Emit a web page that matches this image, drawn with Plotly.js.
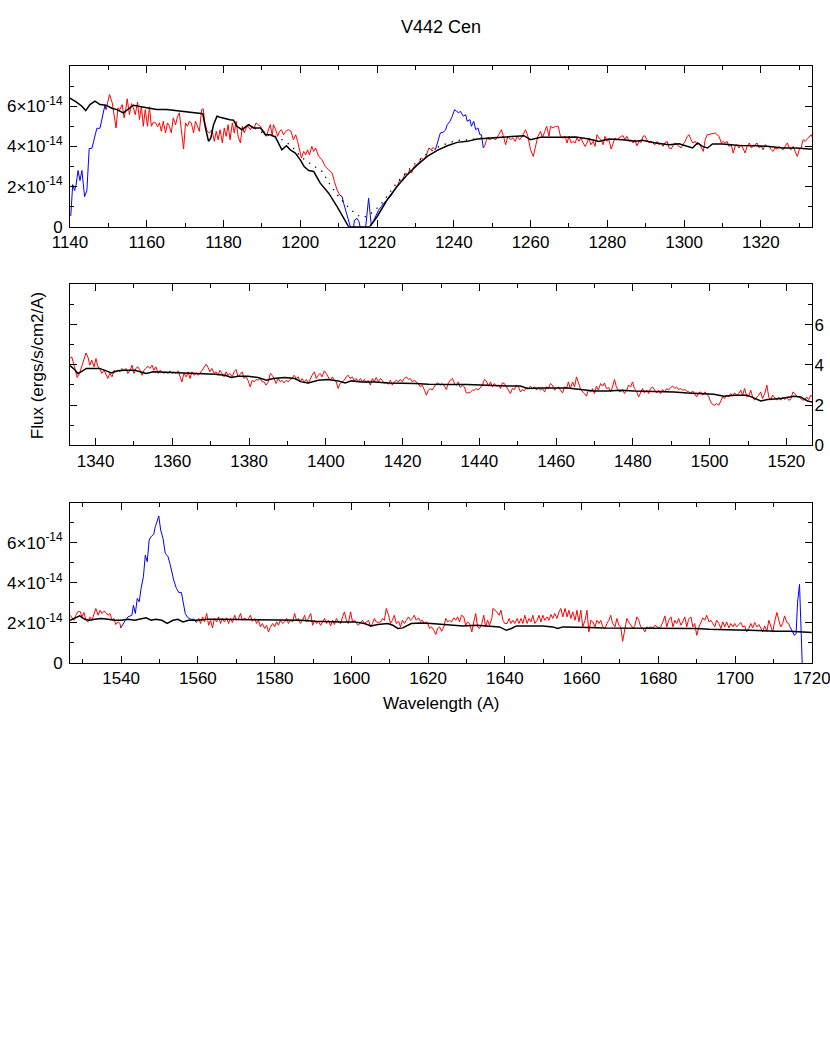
<!DOCTYPE html>
<html>
<head>
<meta charset="utf-8">
<script src="https://cdn.plot.ly/plotly-3.0.1.min.js"></script>
<style>html,body{margin:0;padding:0;background:#fff;}#chart{width:830px;height:1042px;}</style>
</head>
<body>
<div id="chart"></div>
<script>
// Flux values in units of 1e-14 ergs/s/cm2/A; pairs are [wavelength (A), flux]
const titleText = "V442 Cen";
const yTickVals = [0, 2, 4, 6];
const yTickTextExp = ["0", "2×10<sup>-14</sup>", "4×10<sup>-14</sup>", "6×10<sup>-14</sup>"];
const yTickTextShort = ["0", "2", "4", "6"];
const panelRanges = [[1140, 1333.33], [1333.33, 1526.67], [1526.67, 1720.05]];

// ---------- Panel 1 ----------
const p1BlueA = [[1140.2,0.53],[1140.7,2.1],[1141.2,1.8],[1141.6,2.1],[1142.1,2.8],[1142.6,2.3],[1143.1,2.8],[1143.8,1.5],[1144.4,1.8],[1145.0,3.9],[1145.7,3.9],[1146.3,4.3],[1147.0,4.9],[1147.8,4.9],[1148.5,5.5],[1149.1,6.05],[1149.4,5.83]];
const p1RedA = [[1149.4,5.83],[1149.7,6.08],[1150.3,6.58],[1151.0,6.17],[1151.5,5.58],[1152.0,4.92],[1152.5,5.92],[1153.0,5.83],[1153.6,6.08],[1154.1,5.42],[1154.6,5.92],[1154.9,6.37],[1155.5,5.58],[1156.0,6.13],[1156.5,5.92],[1157.0,5.58],[1157.6,6.2],[1158.1,5.33],[1158.6,6.0],[1159.1,5.0],[1159.6,5.83],[1160.2,5.0],[1160.7,5.97],[1161.2,5.0],[1161.7,5.2],[1162.3,5.17],[1162.8,4.97],[1163.3,5.17],[1163.8,4.75],[1164.3,5.25],[1164.9,4.67],[1165.4,5.17],[1165.9,5.0],[1166.4,4.67],[1166.9,5.42],[1167.5,5.08],[1168.0,5.47],[1168.5,5.67],[1169.0,4.83],[1169.6,3.87],[1170.1,5.17],[1170.6,5.0],[1171.1,5.25],[1171.6,5.17],[1172.2,4.67],[1172.7,5.25],[1173.2,5.0],[1173.7,4.75],[1174.3,5.83],[1174.7,5.87],[1175.1,5.25],[1175.7,4.75],[1176.4,4.67],[1177.0,4.83],[1177.6,4.25],[1178.1,4.75],[1178.6,4.33],[1179.1,4.83],[1179.7,4.17],[1180.2,4.92],[1180.7,4.5],[1181.2,5.08],[1181.7,4.33],[1182.3,5.17],[1182.8,4.67],[1183.3,5.25],[1183.8,4.5],[1184.4,4.17],[1184.9,5.0],[1185.4,4.67],[1185.9,4.92],[1186.4,5.0],[1187.0,4.83],[1187.5,5.0],[1188.0,4.92],[1188.5,5.17],[1189.0,5.08],[1189.6,5.0],[1190.1,4.83],[1190.6,4.75],[1191.1,4.5],[1191.7,4.83],[1192.2,5.08],[1192.7,4.5],[1193.0,5.08],[1193.6,4.83],[1194.1,4.5],[1194.6,4.75],[1195.1,4.83],[1195.6,4.58],[1196.2,4.75],[1196.9,4.83],[1197.6,4.75],[1198.2,4.33],[1198.8,4.58],[1199.3,4.25],[1199.8,3.75],[1200.3,3.42],[1200.9,3.75],[1201.4,3.58],[1201.9,3.83],[1202.4,3.58],[1203.0,4.0],[1203.5,3.75],[1204.0,3.92],[1204.5,3.67],[1204.8,3.5],[1205.7,3.33],[1206.5,3.0],[1207.4,2.83],[1208.3,2.67],[1208.9,2.25],[1209.6,1.83],[1210.3,1.58]];
const p1BlueB = [[1210.3,1.58],[1210.9,1.5],[1211.3,1.17],[1212.0,0.75],[1212.6,0.33],[1213.0,0.03],[1213.5,-0.3],[1213.9,0.0],[1214.1,0.33],[1214.8,0.42],[1215.3,0.25],[1215.7,-0.1],[1216.3,-0.4],[1217.0,-0.1],[1217.4,0.67],[1217.8,1.42],[1218.1,0.83],[1218.5,0.08],[1219.1,0.3],[1219.8,0.58],[1220.4,0.83],[1221.1,1.0],[1221.7,1.17],[1222.6,1.33],[1223.5,1.5],[1224.3,1.75],[1225.0,1.97]];
const p1RedB = [[1225.0,1.97],[1225.4,2.08],[1225.9,2.33],[1226.4,2.25],[1227.0,2.5],[1227.5,2.67],[1228.0,2.58],[1228.5,2.83],[1229.0,2.67],[1229.6,3.0],[1230.3,3.08],[1230.9,3.17],[1231.5,3.42],[1232.2,3.33],[1232.9,3.58],[1233.5,3.92],[1234.1,3.83],[1234.6,3.95],[1235.2,3.83]];
const p1BlueC = [[1235.2,3.83],[1235.8,4.17],[1236.5,4.67],[1237.2,4.7],[1237.8,4.8],[1238.3,5.08],[1239.0,5.25],[1239.6,5.5],[1240.2,5.83],[1240.7,5.75],[1241.3,5.67],[1241.7,5.75],[1242.5,5.5],[1243.1,5.58],[1243.5,5.25],[1244.2,5.33],[1244.6,5.0],[1245.2,5.25],[1245.7,4.83],[1246.3,4.92],[1246.8,4.58],[1247.2,4.58],[1247.7,3.92]];
const p1RedC = [[1247.7,3.92],[1248.0,4.0],[1248.7,4.42],[1249.4,4.33],[1250.0,4.42],[1250.9,4.33],[1251.7,4.58],[1252.4,4.83],[1252.9,4.53],[1253.5,4.08],[1254.1,4.5],[1254.8,4.33],[1255.4,4.42],[1256.0,4.25],[1256.5,4.5],[1257.2,4.33],[1257.9,4.53],[1258.7,4.83],[1259.3,4.5],[1260.0,3.83],[1260.7,3.5],[1261.3,4.0],[1261.9,4.5],[1262.6,4.75],[1263.1,4.42],[1263.7,4.75],[1264.2,5.0],[1264.8,4.5],[1265.2,5.0],[1265.9,4.92],[1266.5,5.0],[1267.2,5.0],[1267.8,4.5],[1268.3,4.42],[1269.0,4.5],[1269.5,4.17],[1270.0,4.5],[1270.6,4.17],[1271.1,4.25],[1271.6,4.17],[1272.1,4.42],[1272.6,4.25],[1273.1,4.42],[1273.7,4.17],[1274.2,4.0],[1274.7,4.17],[1275.2,4.42],[1275.7,4.08],[1276.3,4.25],[1276.8,4.0],[1277.3,4.58],[1277.8,4.42],[1278.4,4.33],[1278.9,4.08],[1279.4,4.5],[1279.9,4.25],[1280.4,4.33],[1281.0,3.87],[1281.5,4.17],[1282.0,4.42],[1282.5,4.33],[1283.0,4.42],[1283.6,4.5],[1284.1,4.53],[1284.6,4.33],[1285.1,4.5],[1285.7,4.25],[1286.2,4.33],[1286.7,4.17],[1287.2,4.33],[1287.7,4.03],[1288.3,4.25],[1288.8,4.2],[1289.3,4.5],[1289.8,4.53],[1290.3,4.33],[1290.9,4.17],[1291.4,4.25],[1291.9,4.17],[1292.4,4.08],[1293.0,4.25],[1293.5,4.08],[1294.0,4.17],[1294.5,4.0],[1295.0,4.17],[1295.6,4.25],[1296.1,3.92],[1296.6,3.87],[1297.1,4.03],[1297.6,4.17],[1298.2,4.08],[1298.7,4.0],[1299.2,3.92],[1299.7,4.08],[1300.3,4.25],[1300.8,4.5],[1301.3,4.58],[1301.8,4.33],[1302.3,4.17],[1302.9,4.25],[1303.4,4.08],[1303.9,4.17],[1304.4,4.0],[1305.0,3.75],[1305.5,4.33],[1306.0,4.58],[1306.5,4.58],[1307.0,4.63],[1307.6,4.63],[1308.1,4.67],[1308.6,4.58],[1309.1,4.5],[1309.7,4.17],[1310.2,4.25],[1310.7,4.17],[1311.2,4.25],[1311.7,4.0],[1312.3,4.08],[1312.8,3.67],[1313.3,4.0],[1313.8,4.08],[1314.3,3.92],[1314.9,4.08],[1315.4,3.83],[1315.9,3.67],[1316.4,4.0],[1317.0,4.17],[1317.5,3.92],[1318.0,4.0],[1318.5,4.08],[1319.0,4.17],[1319.6,3.92],[1320.1,4.03],[1320.6,3.83],[1321.1,4.08],[1321.7,4.0],[1322.2,4.0],[1322.7,3.83],[1323.2,3.75],[1323.7,3.92],[1324.3,3.87],[1324.8,4.0],[1325.3,3.92],[1325.8,3.83],[1326.3,4.0],[1326.9,4.17],[1327.4,3.92],[1327.9,3.83],[1328.4,4.0],[1329.0,3.67],[1329.5,3.5],[1330.0,3.83],[1330.5,3.92],[1331.0,4.33],[1331.6,4.25],[1332.1,4.37],[1332.6,4.5],[1333.1,4.58],[1333.7,4.33]];
const p1Model = [[1140.0,6.4],[1140.3,6.37],[1141.7,6.2],[1143.1,6.0],[1144.1,5.78],[1145.2,6.08],[1146.5,6.25],[1147.8,6.08],[1149.4,6.05],[1150.9,5.9],[1152.2,5.83],[1153.9,5.67],[1155.2,5.87],[1156.5,6.05],[1160.0,5.92],[1162.6,5.83],[1165.2,5.83],[1168.7,5.75],[1172.2,5.7],[1174.6,5.63],[1175.2,5.0],[1176.1,4.25],[1176.7,4.42],[1177.4,5.08],[1178.3,5.5],[1179.6,5.42],[1181.7,5.33],[1182.6,5.3],[1183.5,5.0],[1184.8,4.83],[1186.5,5.08],[1187.8,4.92],[1189.6,4.92],[1190.9,4.58],[1192.2,4.58],[1193.5,4.47],[1195.2,3.83],[1196.4,4.03],[1197.4,3.83],[1198.7,3.67],[1200.0,3.33],[1201.0,3.0],[1202.2,2.8],[1203.5,2.75],[1205.2,2.17],[1207.4,1.67],[1209.6,1.0],[1211.3,0.42],[1212.6,0],[1218.1,0],[1220.0,0.5],[1222.6,1.33],[1225.2,2.0],[1227.8,2.58],[1230.5,3.08],[1233.1,3.5],[1235.7,3.8],[1238.3,4.03],[1240.9,4.2],[1243.5,4.25],[1246.1,4.37],[1249.6,4.42],[1253.0,4.47],[1256.5,4.53],[1258.3,4.53],[1260.0,4.33],[1262.6,4.45],[1267.0,4.45],[1271.8,4.47],[1275.2,4.37],[1277.8,4.25],[1280.4,4.37],[1283.9,4.33],[1287.4,4.25],[1289.1,4.3],[1292.6,4.17],[1296.1,4.08],[1298.7,4.13],[1300.4,4.03],[1302.2,3.92],[1303.5,4.17],[1304.8,4.0],[1306.1,3.92],[1307.4,4.12],[1310.0,4.12],[1314.4,4.05],[1318.7,4.03],[1322.2,4.0],[1325.7,3.92],[1329.2,3.92],[1332.6,3.87],[1333.7,3.87]];
const p1ModelDotted = [[1186.5,5.08],[1190.9,4.6],[1193.5,4.5],[1196.1,4.25],[1198.0,3.97],[1200.0,3.5],[1203.5,3.03],[1205.7,2.75],[1207.8,2.08],[1210.0,1.5],[1212.2,1.03],[1214.8,0.58],[1216.5,0.45],[1218.7,0.7],[1220.9,1.08],[1223.0,1.6],[1225.2,2.2],[1227.8,2.75],[1230.5,3.25],[1233.1,3.65],[1235.7,3.95],[1238.3,4.15],[1240.9,4.3],[1243.5,4.32],[1246.1,4.4],[1249.6,4.42],[1253.0,4.47]];

// ---------- Panel 2 ----------
const p2Red = [[1333.2,4.31],[1333.8,4.39],[1334.5,3.9],[1335.2,3.37],[1335.8,3.57],[1336.4,3.9],[1337.0,4.31],[1337.5,4.59],[1338.0,4.39],[1338.5,3.98],[1339.0,4.23],[1339.6,3.9],[1340.1,4.31],[1340.6,3.9],[1341.1,3.82],[1341.6,3.57],[1342.2,3.73],[1342.7,3.48],[1343.2,3.32],[1343.7,3.57],[1344.3,3.4],[1344.8,3.73],[1345.3,3.65],[1345.8,3.73],[1346.3,3.65],[1346.9,3.82],[1347.4,3.7],[1347.9,3.82],[1348.4,3.57],[1349.0,3.73],[1349.5,3.98],[1350.0,3.57],[1350.5,3.82],[1351.0,3.9],[1351.6,3.73],[1352.1,3.48],[1352.6,3.73],[1353.1,3.82],[1353.6,3.93],[1354.2,3.82],[1354.7,3.98],[1355.2,3.73],[1355.7,3.9],[1356.3,3.57],[1356.8,3.73],[1357.3,3.65],[1357.8,3.57],[1358.3,3.65],[1358.9,3.57],[1359.4,3.7],[1359.9,3.57],[1360.4,3.65],[1361.0,3.57],[1361.5,3.7],[1362.0,3.4],[1362.5,3.15],[1363.0,3.57],[1363.6,3.4],[1364.1,3.65],[1364.6,3.32],[1365.1,3.65],[1365.7,3.48],[1366.2,3.57],[1366.7,3.48],[1367.2,3.57],[1367.7,3.73],[1368.3,3.9],[1368.8,4.03],[1369.3,3.87],[1369.8,3.65],[1370.3,3.82],[1370.9,3.57],[1371.4,3.65],[1371.9,3.48],[1372.4,3.73],[1373.0,3.57],[1373.5,3.4],[1374.0,3.65],[1374.5,3.48],[1375.0,3.57],[1375.6,3.4],[1376.1,3.65],[1376.6,3.77],[1377.1,3.4],[1377.7,3.57],[1378.2,3.65],[1378.7,3.32],[1379.2,3.43],[1379.7,3.23],[1380.3,2.9],[1380.8,3.23],[1381.3,3.15],[1381.8,3.27],[1382.3,3.23],[1382.9,3.32],[1383.4,3.15],[1383.9,3.15],[1384.4,2.99],[1385.0,3.15],[1385.5,3.57],[1386.0,3.48],[1386.5,3.32],[1387.0,3.07],[1387.6,3.32],[1388.1,3.15],[1388.6,3.23],[1389.1,3.1],[1389.7,3.23],[1390.2,3.15],[1390.7,3.27],[1391.2,3.32],[1391.7,3.48],[1392.3,3.32],[1392.8,3.4],[1393.3,3.15],[1393.8,3.32],[1394.3,3.15],[1394.9,3.27],[1395.4,3.07],[1395.9,3.32],[1396.4,3.48],[1397.0,3.65],[1397.5,3.32],[1398.0,3.48],[1398.5,3.57],[1399.0,3.4],[1399.6,3.7],[1400.1,3.57],[1400.6,3.4],[1401.1,3.23],[1401.7,3.4],[1402.2,3.23],[1402.7,3.15],[1403.2,2.82],[1403.7,3.07],[1404.3,3.15],[1404.8,3.23],[1405.3,3.4],[1405.8,3.48],[1406.3,3.32],[1406.9,3.4],[1407.4,3.23],[1407.9,3.32],[1408.4,3.15],[1409.0,3.32],[1409.5,3.15],[1410.0,3.27],[1410.5,3.1],[1411.0,3.23],[1411.6,2.99],[1412.1,3.32],[1412.6,3.15],[1413.1,3.37],[1413.7,3.15],[1414.2,3.32],[1414.7,3.23],[1415.2,3.07],[1415.7,3.15],[1416.3,3.03],[1416.8,3.23],[1417.3,2.99],[1417.8,3.15],[1418.4,3.23],[1418.9,3.15],[1419.4,3.27],[1419.9,3.15],[1420.4,3.32],[1421.0,3.4],[1421.5,3.27],[1422.0,3.32],[1422.5,3.15],[1423.0,3.23],[1423.6,3.15],[1424.1,3.07],[1424.6,2.9],[1425.1,2.99],[1425.7,2.74],[1426.2,2.49],[1426.7,2.74],[1427.2,2.82],[1427.7,2.74],[1428.3,2.9],[1428.8,3.07],[1429.3,3.1],[1429.8,2.99],[1430.3,3.07],[1430.9,2.94],[1431.4,2.77],[1431.9,3.07],[1432.4,3.23],[1433.0,3.32],[1433.5,3.07],[1434.0,2.99],[1434.5,3.15],[1435.0,2.87],[1435.6,2.99],[1436.1,2.9],[1436.6,2.6],[1437.1,2.6],[1437.7,2.65],[1438.2,2.74],[1438.7,2.74],[1439.2,2.82],[1439.7,2.74],[1440.3,2.9],[1440.8,2.99],[1441.3,3.27],[1441.8,3.2],[1442.4,2.94],[1442.9,3.15],[1443.4,2.9],[1443.9,3.07],[1444.4,2.94],[1445.0,2.99],[1445.5,2.82],[1446.0,3.1],[1446.5,3.07],[1447.0,2.9],[1447.6,2.74],[1448.1,2.57],[1448.6,2.82],[1449.1,2.77],[1449.7,2.99],[1450.2,2.9],[1450.7,2.65],[1451.2,2.77],[1451.7,2.7],[1452.3,2.87],[1452.8,2.82],[1453.3,2.94],[1453.8,2.82],[1454.4,2.9],[1454.9,2.74],[1455.4,2.87],[1455.9,2.74],[1456.4,2.82],[1457.0,2.65],[1457.5,2.9],[1458.0,2.82],[1458.5,3.07],[1459.0,2.99],[1459.6,2.74],[1460.1,2.82],[1460.6,2.9],[1461.1,2.74],[1461.7,2.6],[1462.2,2.9],[1462.7,2.82],[1463.2,3.15],[1463.7,2.82],[1464.3,3.15],[1464.8,2.9],[1465.3,3.4],[1465.8,3.15],[1466.4,2.77],[1466.9,2.65],[1467.4,2.57],[1467.9,2.44],[1468.4,2.74],[1469.0,2.65],[1469.5,2.82],[1470.0,2.57],[1470.5,2.94],[1471.0,2.74],[1471.6,3.07],[1472.1,2.94],[1472.6,3.1],[1473.1,2.82],[1473.7,2.87],[1474.2,2.65],[1474.7,2.9],[1475.2,3.27],[1475.7,2.9],[1476.3,2.7],[1476.8,2.65],[1477.3,2.77],[1477.8,2.57],[1478.4,2.74],[1478.9,2.99],[1479.4,2.9],[1479.9,3.15],[1480.4,2.82],[1481.0,2.65],[1481.5,2.4],[1482.0,2.65],[1482.5,2.82],[1483.0,2.6],[1483.6,2.74],[1484.1,2.57],[1484.6,2.82],[1485.1,2.9],[1485.7,2.7],[1486.2,2.6],[1486.7,2.74],[1487.2,2.57],[1487.7,2.77],[1488.3,2.65],[1488.8,2.82],[1489.3,2.74],[1489.8,2.87],[1490.4,2.94],[1490.9,2.82],[1491.4,2.9],[1491.9,2.77],[1492.4,2.82],[1493.0,2.74],[1493.5,2.77],[1494.0,2.7],[1494.5,2.65],[1495.1,2.6],[1495.6,2.7],[1496.1,2.57],[1496.6,2.4],[1497.1,2.6],[1497.7,2.65],[1498.2,2.49],[1498.7,2.65],[1499.2,2.57],[1499.7,2.44],[1500.3,2.15],[1500.8,2.02],[1501.3,1.99],[1501.8,2.07],[1502.4,1.99],[1502.9,2.24],[1503.4,2.4],[1503.9,2.32],[1504.4,2.49],[1505.0,2.4],[1505.5,2.57],[1506.0,2.44],[1506.5,2.6],[1507.1,2.49],[1507.6,2.57],[1508.1,2.74],[1508.6,2.49],[1509.1,2.82],[1509.7,2.4],[1510.2,2.44],[1510.7,2.74],[1511.2,2.4],[1511.7,2.24],[1512.3,2.4],[1512.8,2.49],[1513.3,2.65],[1513.8,2.32],[1514.4,2.6],[1514.9,2.99],[1515.4,2.4],[1515.9,2.24],[1516.4,2.49],[1517.0,2.32],[1517.5,2.24],[1518.0,2.4],[1518.5,2.24],[1519.1,2.37],[1519.6,2.27],[1520.1,2.4],[1520.6,2.24],[1521.1,2.27],[1521.7,2.65],[1522.2,2.57],[1522.7,2.44],[1523.2,2.4],[1523.7,2.32],[1524.3,2.24],[1524.8,2.27],[1525.3,2.4],[1525.8,2.27],[1526.4,2.49],[1526.9,2.37]];
const p2Model = [[1333.3,3.95],[1333.5,3.93],[1334.5,3.77],[1335.4,3.57],[1336.2,3.65],[1337.6,3.82],[1339.3,3.82],[1341.0,3.82],[1342.8,3.7],[1344.1,3.6],[1345.8,3.7],[1347.6,3.73],[1350.2,3.73],[1351.9,3.65],[1353.2,3.57],[1355.0,3.65],[1358.0,3.63],[1360.6,3.6],[1364.1,3.6],[1367.6,3.57],[1371.1,3.53],[1373.7,3.48],[1375.4,3.37],[1377.1,3.43],[1379.7,3.43],[1382.3,3.37],[1384.5,3.23],[1386.3,3.32],[1389.3,3.37],[1391.9,3.32],[1393.6,3.15],[1395.4,3.1],[1398.0,3.23],[1400.6,3.27],[1403.2,3.2],[1405.0,3.1],[1406.7,3.2],[1409.3,3.15],[1412.8,3.15],[1416.3,3.1],[1419.7,3.1],[1423.2,3.07],[1426.7,3.03],[1430.2,3.01],[1433.3,3.02],[1436.8,3.02],[1440.3,2.99],[1443.7,2.97],[1447.2,2.95],[1450.7,2.94],[1452.5,2.82],[1455.9,2.85],[1459.4,2.85],[1462.9,2.84],[1466.4,2.77],[1469.8,2.7],[1473.3,2.7],[1476.8,2.74],[1480.3,2.7],[1483.8,2.69],[1487.2,2.65],[1490.7,2.65],[1494.2,2.6],[1497.7,2.57],[1501.1,2.54],[1503.7,2.44],[1506.4,2.49],[1509.8,2.49],[1511.6,2.32],[1513.3,2.2],[1515.1,2.27],[1518.5,2.32],[1522.0,2.44],[1523.7,2.4],[1525.5,2.2],[1526.8,2.15]];

// ---------- Panel 3 ----------
const p3RedA = [[1526.7,2.38],[1527.2,2.22],[1527.7,2.13],[1528.2,2.38],[1528.7,2.55],[1529.3,2.58],[1529.8,2.3],[1530.3,2.52],[1530.8,2.13],[1531.4,2.05],[1531.9,2.3],[1532.4,2.13],[1532.9,2.38],[1533.4,2.72],[1534.0,2.38],[1534.5,2.63],[1535.0,2.47],[1535.5,2.58],[1536.0,2.52],[1536.6,2.38],[1537.1,2.47],[1537.6,2.13],[1538.1,2.22],[1538.6,1.92],[1539.2,2.05],[1539.7,1.97],[1539.9,1.75]];
const p3BlueA = [[1539.9,1.75],[1540.5,1.97],[1541.1,2.13],[1541.8,2.3],[1542.5,2.38],[1542.8,2.38],[1543.2,2.88],[1543.7,2.47],[1544.2,3.22],[1544.7,3.05],[1545.2,3.72],[1545.8,4.3],[1546.3,5.38],[1546.8,5.05],[1547.3,6.13],[1547.8,6.3],[1548.5,6.42],[1548.9,6.8],[1549.4,7.08],[1549.8,7.33],[1550.3,6.63],[1550.9,6.22],[1551.5,5.47],[1552.2,5.3],[1552.7,4.97],[1553.2,4.55],[1553.7,4.13],[1554.4,3.72],[1555.0,3.52],[1555.7,3.52],[1556.2,3.05],[1556.7,2.47],[1557.2,2.3],[1557.7,2.22],[1558.3,2.18],[1559.0,2.18],[1559.6,2.02]];
const p3RedB = [[1559.6,2.02],[1560.2,2.22],[1560.7,1.97],[1561.2,2.3],[1561.7,2.05],[1562.3,2.47],[1562.8,1.88],[1563.3,2.13],[1563.8,1.75],[1564.3,2.22],[1564.9,2.05],[1565.4,2.3],[1565.9,1.97],[1566.4,2.22],[1566.9,2.05],[1567.5,2.25],[1568.0,1.97],[1568.5,2.22],[1569.0,2.02],[1569.6,2.38],[1570.1,2.13],[1570.6,2.22],[1571.1,2.47],[1571.6,2.13],[1572.2,2.25],[1572.7,2.13],[1573.2,2.22],[1573.7,2.38],[1574.2,2.08],[1574.8,2.22],[1575.3,1.97],[1575.8,2.13],[1576.3,1.8],[1576.8,1.97],[1577.4,1.72],[1577.9,1.88],[1578.4,1.55],[1578.9,1.8],[1579.5,1.97],[1580.0,1.8],[1580.5,2.05],[1581.0,1.88],[1581.5,2.13],[1582.1,1.97],[1582.6,2.05],[1583.1,2.22],[1583.6,1.97],[1584.1,2.13],[1584.7,2.05],[1585.2,2.47],[1585.7,2.13],[1586.2,2.22],[1586.7,1.97],[1587.3,2.13],[1587.8,2.38],[1588.3,2.05],[1588.8,2.22],[1589.4,2.47],[1589.9,1.88],[1590.4,2.13],[1590.9,1.97],[1591.4,2.08],[1592.0,1.88],[1592.5,2.05],[1593.0,2.22],[1593.5,1.97],[1594.0,2.13],[1594.6,1.85],[1595.1,2.13],[1595.6,1.92],[1596.1,2.22],[1596.6,2.05],[1597.2,1.97],[1597.7,2.3],[1598.2,2.55],[1598.7,2.13],[1599.2,1.97],[1599.8,2.55],[1600.3,2.05],[1600.8,2.13],[1601.3,1.97],[1601.8,1.88],[1602.4,2.02],[1602.9,2.13],[1603.4,1.97],[1603.9,2.05],[1604.5,2.13],[1605.0,1.8],[1605.5,1.97],[1606.0,2.22],[1606.5,2.05],[1607.1,2.02],[1607.6,2.05],[1608.1,2.22],[1608.6,2.13],[1609.1,2.72],[1609.7,2.38],[1610.2,1.97],[1610.7,2.13],[1611.2,2.38],[1611.7,1.97],[1612.3,2.08],[1612.8,1.8],[1613.3,2.13],[1613.8,1.97],[1614.3,2.13],[1614.9,2.3],[1615.4,2.13],[1615.9,2.22],[1616.4,2.38],[1616.9,2.13],[1617.5,2.25],[1618.0,2.08],[1618.5,2.13],[1619.0,1.97],[1619.6,2.05],[1619.9,1.97],[1620.4,1.72],[1620.9,1.8],[1621.5,1.63],[1622.0,1.42],[1622.5,1.72],[1623.0,1.8],[1623.5,1.58],[1624.1,1.8],[1624.6,2.22],[1625.1,2.05],[1625.6,2.13],[1626.1,2.05],[1626.7,2.25],[1627.2,2.13],[1627.7,2.3],[1628.2,2.05],[1628.7,2.38],[1629.3,2.3],[1629.8,1.88],[1630.3,2.05],[1630.8,1.97],[1631.4,1.55],[1631.9,2.05],[1632.4,2.47],[1632.9,1.8],[1633.4,1.72],[1634.0,1.97],[1634.5,2.38],[1635.0,1.8],[1635.5,2.13],[1636.0,1.88],[1636.6,2.22],[1636.9,2.72],[1637.4,2.63],[1637.9,2.55],[1638.5,2.38],[1639.0,2.63],[1639.5,2.13],[1640.0,1.97],[1640.6,1.97],[1641.1,2.22],[1641.6,1.97],[1642.1,2.13],[1642.6,1.97],[1643.2,2.22],[1643.7,1.97],[1644.2,2.22],[1644.7,1.97],[1645.2,2.38],[1645.8,1.97],[1646.3,2.22],[1646.8,2.05],[1647.3,2.38],[1647.8,1.97],[1648.4,2.13],[1648.9,2.38],[1649.4,2.05],[1649.9,2.38],[1650.4,2.13],[1651.0,2.3],[1651.5,2.13],[1652.0,2.42],[1652.5,2.22],[1653.0,2.47],[1653.6,2.22],[1654.1,2.55],[1654.6,2.72],[1655.1,2.3],[1655.7,2.72],[1656.2,2.3],[1656.7,2.63],[1657.2,2.22],[1657.7,2.55],[1658.3,2.13],[1658.8,2.63],[1659.3,2.05],[1659.8,2.63],[1660.3,1.8],[1660.9,2.13],[1661.4,2.63],[1661.9,1.55],[1662.4,2.13],[1662.9,2.05],[1663.5,1.8],[1664.0,2.13],[1664.5,1.97],[1665.0,2.13],[1665.5,1.8],[1666.1,1.72],[1666.6,1.97],[1667.1,2.13],[1667.6,2.38],[1668.1,1.97],[1668.7,1.8],[1669.2,2.22],[1669.7,1.88],[1670.2,1.8],[1670.7,1.08],[1671.3,1.8],[1671.8,2.22],[1672.3,2.05],[1672.8,1.88],[1673.4,1.72],[1673.9,1.88],[1674.4,2.3],[1674.9,2.13],[1675.4,1.8],[1676.0,1.72],[1676.5,1.55],[1677.0,1.8],[1677.5,1.75],[1678.0,1.8],[1678.6,1.75],[1679.1,1.88],[1679.6,1.8],[1680.1,1.75],[1680.6,1.8],[1681.2,2.05],[1681.7,2.35],[1682.2,1.8],[1682.7,2.13],[1683.3,2.3],[1683.8,1.8],[1684.3,2.13],[1684.8,1.97],[1685.3,2.22],[1685.9,1.88],[1686.4,2.13],[1686.9,2.3],[1687.4,1.8],[1687.9,2.18],[1688.5,2.3],[1689.0,1.8],[1689.5,1.97],[1690.0,1.38],[1690.6,1.8],[1691.1,2.05],[1691.6,2.25],[1692.1,2.13],[1692.6,2.38],[1693.2,2.05],[1693.7,2.13],[1694.2,1.97],[1694.7,1.8],[1695.2,2.13],[1695.8,1.97],[1696.3,1.72],[1696.8,2.05],[1697.3,1.8],[1697.8,2.05],[1698.4,1.75],[1698.9,1.97],[1699.4,1.8],[1699.9,1.97],[1700.4,1.8],[1701.0,1.92],[1701.5,2.02],[1702.0,1.8],[1702.5,1.85],[1703.0,1.55],[1703.6,1.72],[1704.1,1.97],[1704.6,1.75],[1705.1,2.02],[1705.7,1.8],[1706.2,1.92],[1706.7,1.72],[1707.2,1.55],[1707.7,1.85],[1708.3,1.58],[1708.8,2.13],[1709.3,1.8],[1709.8,1.55],[1710.3,2.05],[1710.9,2.52],[1711.4,2.13],[1711.9,1.8],[1712.4,1.97],[1712.9,2.35],[1713.5,2.02],[1714.0,1.97],[1714.3,1.8]];
const p3BlueB = [[1714.3,1.8],[1714.9,1.55],[1715.5,1.38],[1715.9,1.47],[1716.3,3.05],[1716.8,3.92],[1717.0,2.55],[1717.3,0.38],[1717.6,-0.6]];
const p3Model = [[1526.7,2.13],[1527.9,2.25],[1529.2,2.35],[1530.5,2.18],[1531.8,2.13],[1533.1,2.18],[1534.8,2.22],[1536.6,2.18],[1538.3,2.13],[1540.0,2.13],[1541.8,2.18],[1543.5,2.13],[1544.8,2.18],[1546.5,2.25],[1547.8,2.13],[1549.1,2.18],[1550.6,2.13],[1552.0,1.97],[1553.5,2.13],[1554.8,2.18],[1556.1,2.05],[1557.6,2.13],[1559.6,2.13],[1562.6,2.18],[1566.1,2.18],[1569.6,2.17],[1573.0,2.17],[1576.5,2.13],[1580.0,2.13],[1583.4,2.13],[1586.9,2.13],[1590.4,2.08],[1593.9,2.05],[1597.3,2.05],[1600.8,2.05],[1603.4,1.97],[1605.1,1.85],[1606.9,1.92],[1609.5,1.97],[1610.8,1.88],[1612.1,1.72],[1613.4,1.75],[1615.6,1.97],[1618.2,2.0],[1620.8,1.97],[1623.8,1.93],[1625.6,1.88],[1629.1,1.85],[1632.6,1.88],[1636.0,1.85],[1638.6,1.8],[1640.4,1.63],[1641.7,1.72],[1643.0,1.85],[1646.5,1.85],[1649.9,1.85],[1652.5,1.8],[1653.8,1.72],[1655.1,1.8],[1658.6,1.8],[1662.1,1.77],[1665.5,1.75],[1669.0,1.75],[1672.5,1.75],[1676.0,1.75],[1679.5,1.75],[1682.9,1.75],[1686.4,1.75],[1689.9,1.72],[1693.3,1.68],[1696.8,1.65],[1700.3,1.65],[1703.8,1.63],[1707.2,1.6],[1710.7,1.58],[1714.2,1.58],[1717.6,1.55],[1720.0,1.52]];

const RED = '#ff0000', BLUE = '#0000ff', BLACK = '#000000';

function tr(pairs, ax, color, width, dash) {
  return {
    x: pairs.map(p => p[0]), y: pairs.map(p => p[1]),
    xaxis: 'x' + ax, yaxis: 'y' + ax,
    type: 'scatter', mode: 'lines',
    line: {color: color, width: width, dash: dash || 'solid'},
    hoverinfo: 'skip'
  };
}

const data = [
  tr(p1RedA, '', RED, 1), tr(p1RedB, '', RED, 1), tr(p1RedC, '', RED, 1),
  tr(p1BlueA, '', BLUE, 1), tr(p1BlueB, '', BLUE, 1), tr(p1BlueC, '', BLUE, 1),
  tr(p1Model, '', BLACK, 1.5), tr(p1ModelDotted, '', BLACK, 1.3, '1.3px,6px'),
  tr(p2Red, '2', RED, 1), tr(p2Model, '2', BLACK, 1.5),
  tr(p3RedA, '3', RED, 1), tr(p3RedB, '3', RED, 1),
  tr(p3BlueA, '3', BLUE, 1), tr(p3BlueB, '3', BLUE, 1),
  tr(p3Model, '3', BLACK, 1.5)
];

const FONT = 'Liberation Sans, Arial, sans-serif';
function xax(range, anchor, tick0) {
  return {
    anchor: anchor, domain: [0, 1], range: range,
    tickmode: 'linear', tick0: tick0, dtick: 20,
    ticks: 'inside', ticklen: 7, tickwidth: 1, tickcolor: BLACK,
    minor: {ticks: 'inside', ticklen: 4, tickwidth: 1, tickcolor: BLACK, tick0: tick0, dtick: 10, showgrid: false},
    showline: true, linecolor: BLACK, linewidth: 1, mirror: 'allticks',
    showgrid: false, zeroline: false, ticklabeloverflow: 'allow',
    tickfont: {family: FONT, size: 17, color: BLACK}
  };
}
function yax(domain, anchor, text, side, standoff) {
  return {
    anchor: anchor, domain: domain, range: [0, 8], side: side,
    tickmode: 'array', tickvals: yTickVals, ticktext: text,
    ticks: 'inside', ticklen: 7, tickwidth: 1, tickcolor: BLACK,
    minor: {ticks: 'inside', ticklen: 4, tickwidth: 1, tickcolor: BLACK, tickmode: 'array', tickvals: [1, 3, 5, 7], showgrid: false},
    showline: true, linecolor: BLACK, linewidth: 1, mirror: 'allticks',
    showgrid: false, zeroline: false, ticklabelstandoff: standoff, ticklabeloverflow: 'allow',
    tickfont: {family: FONT, size: 17, color: BLACK}
  };
}

const layout = {
  width: 830, height: 1042,
  margin: {l: 70, r: 18, t: 66, b: 379, pad: 0},
  paper_bgcolor: '#ffffff', plot_bgcolor: '#ffffff',
  showlegend: false,
  font: {family: FONT, size: 17, color: BLACK},
  title: {text: titleText, font: {family: FONT, size: 18, color: BLACK}, x: 0.5, xref: 'paper', xanchor: 'center', y: 1 - 27 / 1042, yref: 'container', yanchor: 'middle'},
  xaxis: xax(panelRanges[0], 'y', 1140),
  yaxis: yax([0.7307, 1], 'x', yTickTextExp, 'left', 3),
  xaxis2: xax(panelRanges[1], 'y2', 1340),
  yaxis2: yax([0.3648, 0.6342], 'x2', yTickTextShort, 'right', -2),
  xaxis3: xax(panelRanges[2], 'y3', 1540),
  yaxis3: yax([0, 0.2688], 'x3', yTickTextExp, 'left', 3),
  annotations: [
    {text: 'Flux (ergs/s/cm2/A)', xref: 'paper', yref: 'paper', x: -0.0445, y: 0.4989, xanchor: 'center', yanchor: 'middle', textangle: -90, showarrow: false, font: {family: FONT, size: 17, color: BLACK}},
    {text: 'Wavelength (A)', xref: 'paper', yref: 'paper', x: 0.5, y: -0.0675, xanchor: 'center', yanchor: 'middle', showarrow: false, font: {family: FONT, size: 17, color: BLACK}}
  ]
};

Plotly.newPlot('chart', data, layout, {staticPlot: true, displayModeBar: false});
</script>
</body>
</html>
